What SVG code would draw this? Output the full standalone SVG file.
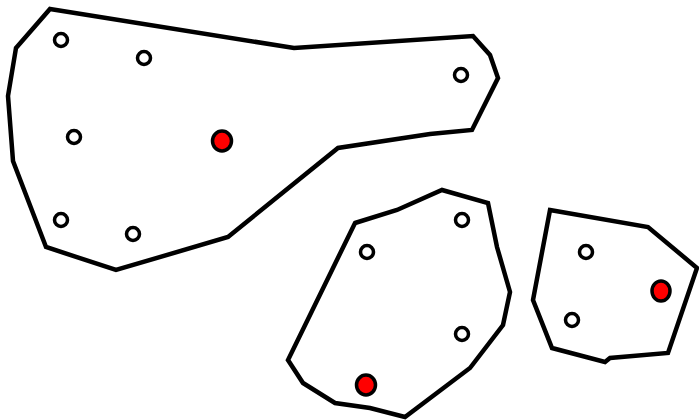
<svg xmlns="http://www.w3.org/2000/svg" width="699" height="420" viewBox="0 0 699 420">
<style>
.hull{fill:none;stroke:#000;stroke-width:4.5;stroke-linejoin:miter}
.pt{fill:#fff;stroke:#000;stroke-width:3.5}
.red{fill:#f00;stroke:#000;stroke-width:3.5}
</style>
<rect width="699" height="420" fill="#fff"/>
<g id="cluster1">
<polygon class="hull" points="50,9 294,48 473,36 490,55 498,78 472,130 430,134 338,148 228,237 116,270 46,247 13,161 8,96 16,48"/>
<circle class="pt" cx="61" cy="40" r="6.5"/>
<circle class="pt" cx="144" cy="58" r="6.5"/>
<circle class="pt" cx="461" cy="75" r="6.5"/>
<circle class="pt" cx="74" cy="137" r="6.5"/>
<ellipse class="red" cx="222" cy="141" rx="9.5" ry="10"/>
<circle class="pt" cx="61" cy="220" r="6.5"/>
<circle class="pt" cx="133" cy="234" r="6.5"/>
</g>
<g id="cluster2">
<polygon class="hull" points="355,223 397,210 442,190 488,203 497,247 510,292 503,325 470,368 405,417 370,408 335,403 303,383 288,360"/>
<circle class="pt" cx="367" cy="252" r="6.5"/>
<circle class="pt" cx="462" cy="220" r="6.5"/>
<circle class="pt" cx="462" cy="334" r="6.5"/>
<ellipse class="red" cx="366" cy="385" rx="9.5" ry="10"/>
</g>
<g id="cluster3">
<polygon class="hull" points="550,210 648,227 697,268 668,353 610,358 605,362 552,348 533,300"/>
<circle class="pt" cx="586" cy="252" r="6.5"/>
<circle class="pt" cx="572" cy="320" r="6.5"/>
<ellipse class="red" cx="661" cy="291" rx="9" ry="10"/>
</g>
<g id="connectors"/>
</svg>
